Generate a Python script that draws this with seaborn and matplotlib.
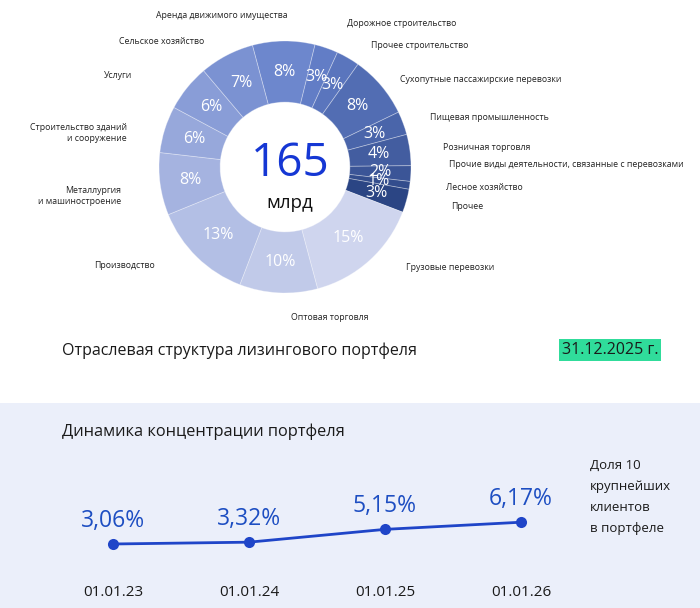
import numpy as np
import pandas as pd
import seaborn as sns
import matplotlib.pyplot as plt
from matplotlib.patches import Rectangle

W, H = 700, 608

# leasing portfolio structure by industry, clockwise from the top
sectors = ["Аренда движимого имущества", "Дорожное строительство", "Прочее строительство",
           "Сухопутные пассажирские перевозки", "Пищевая промышленность", "Розничная торговля",
           "Прочие виды деятельности, связанные с перевозками", "Лесное хозяйство", "Прочее",
           "Грузовые перевозки", "Оптовая торговля", "Производство",
           "Металлургия\nи машиностроение", "Строительство зданий\nи сооружение", "Услуги",
           "Сельское хозяйство"]
shares = [8, 3, 3, 8, 3, 4, 2, 1, 3, 15, 10, 13, 8, 6, 6, 7]
total_bn = "165"
as_of = "31.12.2025 г."

# top-10 clients concentration
dates = ["01.01.23", "01.01.24", "01.01.25", "01.01.26"]
top10_share = [3.06, 3.32, 5.15, 6.17]

# where the outside labels go (px from top-left of the picture) and their alignment
label_layout = [(222, 16, "center"), (347, 23, "left"), (371, 46, "left"), (400, 80, "left"),
                (430, 117, "left"), (443, 147, "left"), (449, 165, "left"), (446, 187, "left"),
                (451, 206, "left"), (406, 268, "left"), (330, 318, "center"), (155, 266, "right"),
                (121, 196, "right"), (127, 133, "right"), (132, 75, "right"), (204, 41, "right")]


def fx(x):
    return x / W


def fy(y):
    return 1 - y / H


sns.set_theme(style="white")
plt.rcParams['font.family'] = ['Open Sans', 'DejaVu Sans']

fig = plt.figure(figsize=(W / 100, H / 100), dpi=100)
fig.add_artist(Rectangle((0, 0), 1, fy(403), transform=fig.transFigure,
                         facecolor="#ebeffa", edgecolor="none", zorder=0))

# colours: lightest at "Грузовые перевозки", getting darker clockwise
ramp = sns.blend_palette(["#cfd5ee", "#6681cb", "#2b4584"], len(shares))
start = sectors.index("Грузовые перевозки")
colors = [ramp[(i - start) % len(shares)] for i in range(len(shares))]

# donut
cx, cy, r = 285, 167, 126
ax = fig.add_axes([fx(cx - r), fy(cy + r), 2 * r / W, 2 * r / H])
ax.pie(shares, colors=colors, startangle=105, counterclock=False, radius=1,
       wedgeprops=dict(width=0.485, edgecolor=(1, 1, 1, 0.35), linewidth=0.6),
       autopct=lambda p: f"{p:.0f}%", pctdistance=0.755,
       textprops=dict(color="white", fontsize=11.5))
ax.set_xlim(-1, 1)
ax.set_ylim(-1, 1)
ax.axis("off")
ax.text(0.04, 0.02, total_bn, ha="center", va="center", fontsize=33, color="#1537d4")
ax.text(0.04, -0.285, "млрд", ha="center", va="center", fontsize=13.5, color="#111111")

for name, (x, y, ha) in zip(sectors, label_layout):
    fig.text(fx(x), fy(y), name, ha=ha, va="center", fontsize=6.3, color="#222222",
             multialignment=ha if ha != "center" else "center", linespacing=1.4)

fig.text(fx(62), fy(351), "Отраслевая структура лизингового портфеля", ha="left", va="center",
         fontsize=11.5, color="#1a1a1a")
fig.text(fx(610), fy(350), as_of, ha="center", va="center", fontsize=11.5, color="#1a1a1a",
         bbox=dict(boxstyle="square,pad=0.2", facecolor="#30dc9b", edgecolor="none"))

# concentration line
fig.text(fx(62), fy(432), "Динамика концентрации портфеля", ha="left", va="center",
         fontsize=11.8, color="#1a1a1a")
ax2 = fig.add_axes([fx(45), fy(575), 544 / W, 115 / H])
ax2.set_facecolor("none")
df = pd.DataFrame({"pos": range(len(dates)), "share": top10_share})
sns.lineplot(data=df, x="pos", y="share", ax=ax2, color="#1f45c8", linewidth=2,
             marker="o", markersize=8, markeredgewidth=0)
ax2.set_xlim(-0.5, 3.5)
ax2.set_ylim(-1.37, 15.06)
ax2.set_xticks(range(len(dates)), dates)
ax2.set_yticks([])
ax2.tick_params(axis="x", length=0, pad=7, labelsize=11, labelcolor="#1a1a1a")
ax2.set_xlabel("")
ax2.set_ylabel("")
for s in ax2.spines.values():
    s.set_visible(False)
for i, v in enumerate(top10_share):
    ax2.annotate(f"{v:.2f}%".replace(".", ","), (i, v), xytext=(0, 16.5), textcoords="offset points",
                 ha="center", va="center", fontsize=16.5, color="#1d4ec2")

fig.text(fx(590), fy(459), "Доля 10\nкрупнейших\nклиентов\nв портфеле", ha="left", va="top",
         fontsize=9.5, color="#1a1a1a", linespacing=1.8)

fig.savefig("out.png", dpi=100)
